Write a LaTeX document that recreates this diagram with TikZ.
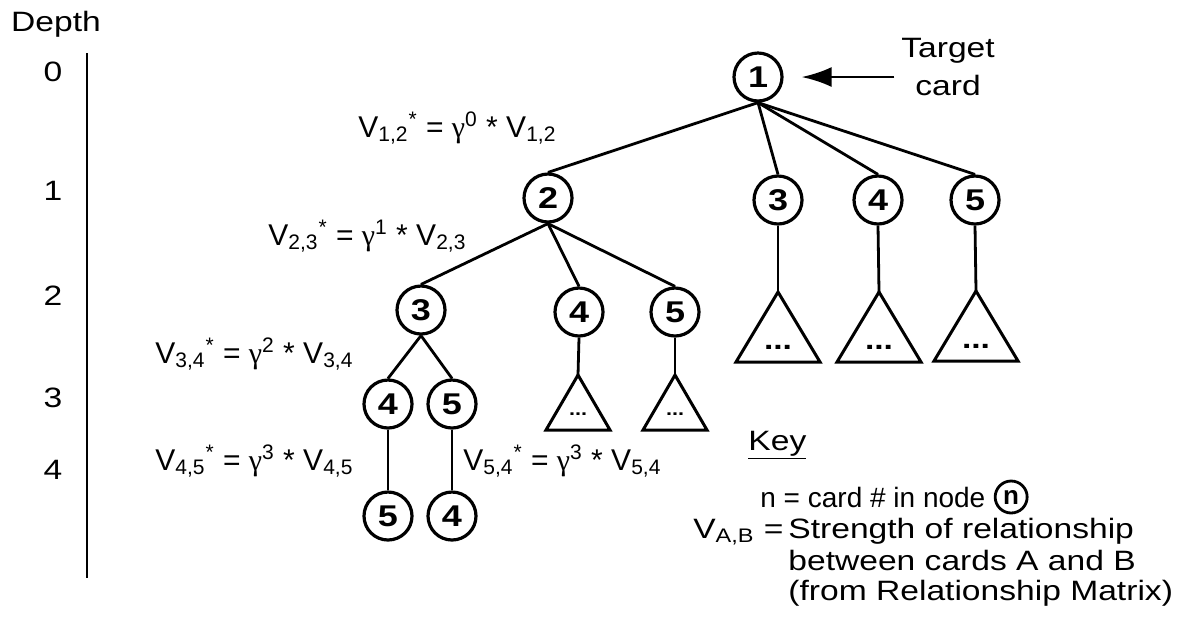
\documentclass[tikz,border=0pt]{standalone}
\usepackage{fontspec}
\setmainfont{Liberation Sans}[FakeStretch=1.2]
\newfontfamily\plainsans{Liberation Sans}
\newfontfamily\greekserif{Liberation Serif}
\usetikzlibrary{arrows.meta,positioning}

\begin{document}
\begin{tikzpicture}[
  x=0.5pt, y=-0.5pt,
  font=\fontsize{14}{16}\selectfont,
  card/.style={
    draw,
    circle,
    line width=1.6pt,
    minimum size=24pt,
    inner sep=0pt,
    font=\fontsize{15}{16}\selectfont\bfseries
  },
  edge/.style={line width=1.4pt},
  subtree/.style={line width=1.5pt, line join=miter},
  bigdots/.style={font=\fontsize{14}{16}\selectfont\bfseries, inner sep=0pt},
  smalldots/.style={font=\fontsize{9}{10}\selectfont\bfseries, inner sep=0pt},
  formula/.style={anchor=base west, inner sep=0pt, font=\plainsans\fontsize{15}{17}\selectfont},
  keyline/.style={anchor=base west, inner sep=0pt},
  pointer/.style={-{Latex[length=15pt,width=10pt]}, line width=1.4pt}
]
\useasboundingbox (0,0) rectangle (1186,629);

% depth scale
\node (depthtitle) at (56,24) {Depth};
\node (depth0) at (53,72) {0};
\node (depth1) at (53,191) {1};
\node (depth2) at (53,296) {2};
\node (depth3) at (53,398) {3};
\node (depth4) at (53,470) {4};
\coordinate (axistop) at (87,53);
\coordinate (axisbot) at (87,578);
\draw[line width=1.4pt] (axistop) -- (axisbot);

% tree of cards
\node[card] (L0n1) at (758,77) {1};
\node[card] (L1n2) at (548,198) {2};
\node[card] (L1n3) at (778,200) {3};
\node[card] (L1n4) at (878,200) {4};
\node[card] (L1n5) at (975,200) {5};
\node[card] (L2n3) at (421,310) {3};
\node[card] (L2n4) at (579,312) {4};
\node[card] (L2n5) at (675,312) {5};
\node[card] (L3n4) at (388,404) {4};
\node[card] (L3n5) at (452,404) {5};
\node[card] (L4n5) at (388,516) {5};
\node[card] (L4n4) at (452,516) {4};

\draw[edge] (L0n1.south) -- (L1n2.north);
\draw[edge] (L0n1.south) -- (L1n3.north);
\draw[edge] (L0n1.south) -- (L1n4.north);
\draw[edge] (L0n1.south) -- (L1n5.north);
\draw[edge] (L1n2.south) -- (L2n3.north);
\draw[edge] (L1n2.south) -- (L2n4.north);
\draw[edge] (L1n2.south) -- (L2n5.north);
\draw[edge] (L2n3.south) -- (L3n4.north);
\draw[edge] (L2n3.south) -- (L3n5.north);
\draw[edge] (L3n4.south) -- (L4n5.north);
\draw[edge] (L3n5.south) -- (L4n4.north);

% unexpanded subtrees
\coordinate (T1n3) at (778,292);
\coordinate (T1n4) at (879,292);
\coordinate (T1n5) at (976,291);
\coordinate (T2n4) at (578,375);
\coordinate (T2n5) at (675,375);
\draw[subtree] (T1n3) -- ++(-42,70) -- ++(84,0) -- cycle;
\draw[subtree] (T1n4) -- ++(-42,70) -- ++(84,0) -- cycle;
\draw[subtree] (T1n5) -- ++(-42,70) -- ++(84,0) -- cycle;
\draw[subtree] (T2n4) -- ++(-32,55) -- ++(64,0) -- cycle;
\draw[subtree] (T2n5) -- ++(-32,55) -- ++(64,0) -- cycle;
\node[bigdots] (D1n3) at (778,347) {...};
\node[bigdots] (D1n4) at (879,347) {...};
\node[bigdots] (D1n5) at (976,346) {...};
\node[smalldots] (D2n4) at (578,414) {...};
\node[smalldots] (D2n5) at (675,414) {...};
\draw[edge] (L1n3.south) -- (T1n3);
\draw[edge] (L1n4.south) -- (T1n4);
\draw[edge] (L1n5.south) -- (T1n5);
\draw[edge] (L2n4.south) -- (T2n4);
\draw[edge] (L2n5.south) -- (T2n5);

% discounted strengths
\node[formula] (F12) at (358,137) {V\textsubscript{1,2}\textsuperscript{*} = {\greekserif γ}\textsuperscript{0} * V\textsubscript{1,2}};
\node[formula] (F23) at (268,245) {V\textsubscript{2,3}\textsuperscript{*} = {\greekserif γ}\textsuperscript{1} * V\textsubscript{2,3}};
\node[formula] (F34) at (155,363) {V\textsubscript{3,4}\textsuperscript{*} = {\greekserif γ}\textsuperscript{2} * V\textsubscript{3,4}};
\node[formula] (F45) at (155,470) {V\textsubscript{4,5}\textsuperscript{*} = {\greekserif γ}\textsuperscript{3} * V\textsubscript{4,5}};
\node[formula] (F54) at (463,470) {V\textsubscript{5,4}\textsuperscript{*} = {\greekserif γ}\textsuperscript{3} * V\textsubscript{5,4}};

% target label
\node[align=center, font=\fontsize{14}{19}\selectfont] (target) at (948,67) {Target\\card};
\draw[pointer] (target.west |- L0n1.east) -- ([xshift=9pt]L0n1.east);

% key
\node[keyline] (keyhead) at (748,450) {\underline{Key}};
\node[keyline, font=\plainsans\fontsize{14}{16}\selectfont] (keyn) at (760,507) {n = card \# in node};
\node[card, minimum size=16pt, line width=1.4pt, font=\plainsans\fontsize{13}{15}\selectfont\bfseries, right=4pt of keyn.east, anchor=west] (keycard) {n};
\node[keyline] (keyl1) at (788,538) {Strength of relationship};
\node[keyline] (keyl2) at (788,570) {between cards A and B};
\node[keyline] (keyl3) at (788,600) {(from Relationship Matrix)};
\node[anchor=base east, inner sep=0pt] (keyv) at ([xshift=-2pt]keyl1.base west) {V\textsubscript{A,B} =};
\end{tikzpicture}
\end{document}
